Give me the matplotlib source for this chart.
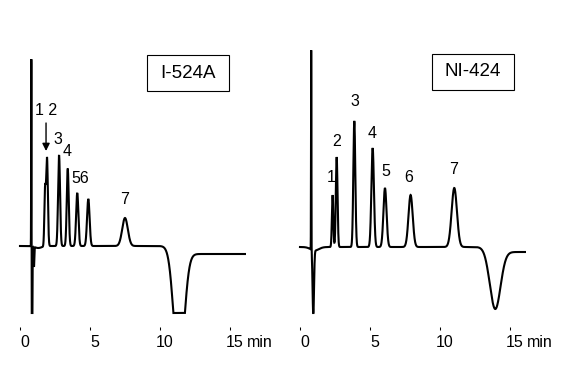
import numpy as np
import matplotlib.pyplot as plt
import matplotlib.transforms as mtransforms

plt.rcParams['font.family'] = ['Liberation Sans', 'DejaVu Sans']

# --- peak tables (time in min, height/depth in px units) ---
left_name = "I-524A"
left_peak_t = [1.79, 1.93, 2.79, 3.41, 4.09, 4.88, 7.50]
left_peak_h = [55, 88, 91, 77, 53, 47, 28]
left_peak_w = [0.05, 0.06, 0.07, 0.07, 0.08, 0.09, 0.20]
# injection disturbance + system (negative) peak
left_dist_t = [0.81, 0.86, 1.00, 1.30, 11.35]
left_dist_h = [199, -150, -20, -2, -124]
left_dist_w = [0.012, 0.022, 0.02, 0.25, 0.36]
left_step = -8          # baseline shift after the system peak
left_step_t = 11.6
left_floor = -67        # detector clipping
left_end = 16.07

right_name = "NI-424"
right_peak_t = [2.33, 2.62, 3.88, 5.19, 6.07, 7.90, 11.02]
right_peak_h = [52, 90, 126, 99, 59, 52, 59]
right_peak_w = [0.05, 0.06, 0.07, 0.09, 0.11, 0.15, 0.19]
right_dist_t = [0.80, 0.95, 1.05, 13.93]
right_dist_h = [200, -66, -3.5, -60]
right_dist_w = [0.012, 0.05, 0.3, 0.38]
right_step = -5
right_step_t = 14.0
right_floor = -66
right_end = 16.07

ticks = [0, 5, 10, 15]
tick_labels = ["0", "5", "10", "15"]

left_labels = ["1 2", "3", "4", "56", "7"]
left_label_xy = [(1.86, 135.5), (2.71, 107), (3.34, 94), (4.31, 67.5), (7.46, 47)]
right_labels = ["1", "2", "3", "4", "5", "6", "7"]
right_label_xy = [(2.25, 70), (2.64, 106), (3.89, 146), (5.16, 113.5),
                  (6.11, 76), (7.79, 69.5), (11.0, 78)]


def trace(peak_t, peak_h, peak_w, dist_t, dist_h, dist_w, step, step_t, floor, t_end):
    t = np.arange(0, t_end, 0.004)
    y = np.zeros_like(t)
    for c, h, w in zip(list(peak_t) + list(dist_t), list(peak_h) + list(dist_h),
                       list(peak_w) + list(dist_w)):
        y += h * np.exp(-(t - c) ** 2 / (2 * w ** 2))
    y += step * 0.5 * (1 + np.tanh((t - step_t) / 0.3))
    return t, np.maximum(y, floor)


def draw_panel(ax, t, y, ylim, name, box, labels, label_xy):
    ax.plot(t, y, color='black', lw=1.5, clip_on=False, solid_joinstyle='miter')
    ax.set_xlim(-0.714, 17.857)
    ax.set_ylim(*ylim)
    for s in ax.spines.values():
        s.set_visible(False)
    ax.set_yticks([])
    ax.set_xticks(ticks)
    ax.set_xticklabels(tick_labels)
    ax.tick_params(axis='x', direction='out', length=2.2, width=0.75,
                   pad=3.5, labelsize=11.5)
    shift = mtransforms.ScaledTranslation(5 / 100, 0, ax.figure.dpi_scale_trans)
    for lbl in ax.get_xticklabels():
        lbl.set_transform(lbl.get_transform() + shift)
    ax.text(16.2, -0.0714, "min", transform=ax.get_xaxis_transform(),
            ha='left', va='baseline', fontsize=11.5)

    x0, x1, y0, y1 = box
    ax.add_patch(plt.Rectangle((x0, y0), x1 - x0, y1 - y0, fill=False,
                               edgecolor='black', lw=0.8, clip_on=False))
    ax.text((x0 + x1) / 2, (y0 + y1) / 2, name, ha='center', va='center',
            fontsize=13.5)

    for txt, (lx, ly) in zip(labels, label_xy):
        ax.text(lx, ly, txt, ha='center', va='center', fontsize=11.5)


fig = plt.figure(figsize=(5.67, 3.78), dpi=100)
ax1 = fig.add_axes([10 / 567, 51 / 378, 260 / 567, 287 / 378])
ax2 = fig.add_axes([290 / 567, 51 / 378, 260 / 567, 287 / 378])

t1, y1 = trace(left_peak_t, left_peak_h, left_peak_w, left_dist_t, left_dist_h,
               left_dist_w, left_step, left_step_t, left_floor, left_end)
t2, y2 = trace(right_peak_t, right_peak_h, right_peak_w, right_dist_t, right_dist_h,
               right_dist_w, right_step, right_step_t, right_floor, right_end)

draw_panel(ax1, t1, y1, (-81, 206), left_name, (9.07, 14.93, 155, 191),
           left_labels, left_label_xy)
draw_panel(ax2, t2, y2, (-80, 207), right_name, (9.43, 15.29, 157, 193),
           right_labels, right_label_xy)

# arrow pointing to peaks 1/2
ax1.annotate('', xy=(1.86, 95), xytext=(1.86, 123),
             arrowprops=dict(arrowstyle='-|>', color='black', lw=1,
                             mutation_scale=11, shrinkA=0, shrinkB=0))

fig.savefig('out.png', dpi=100)
